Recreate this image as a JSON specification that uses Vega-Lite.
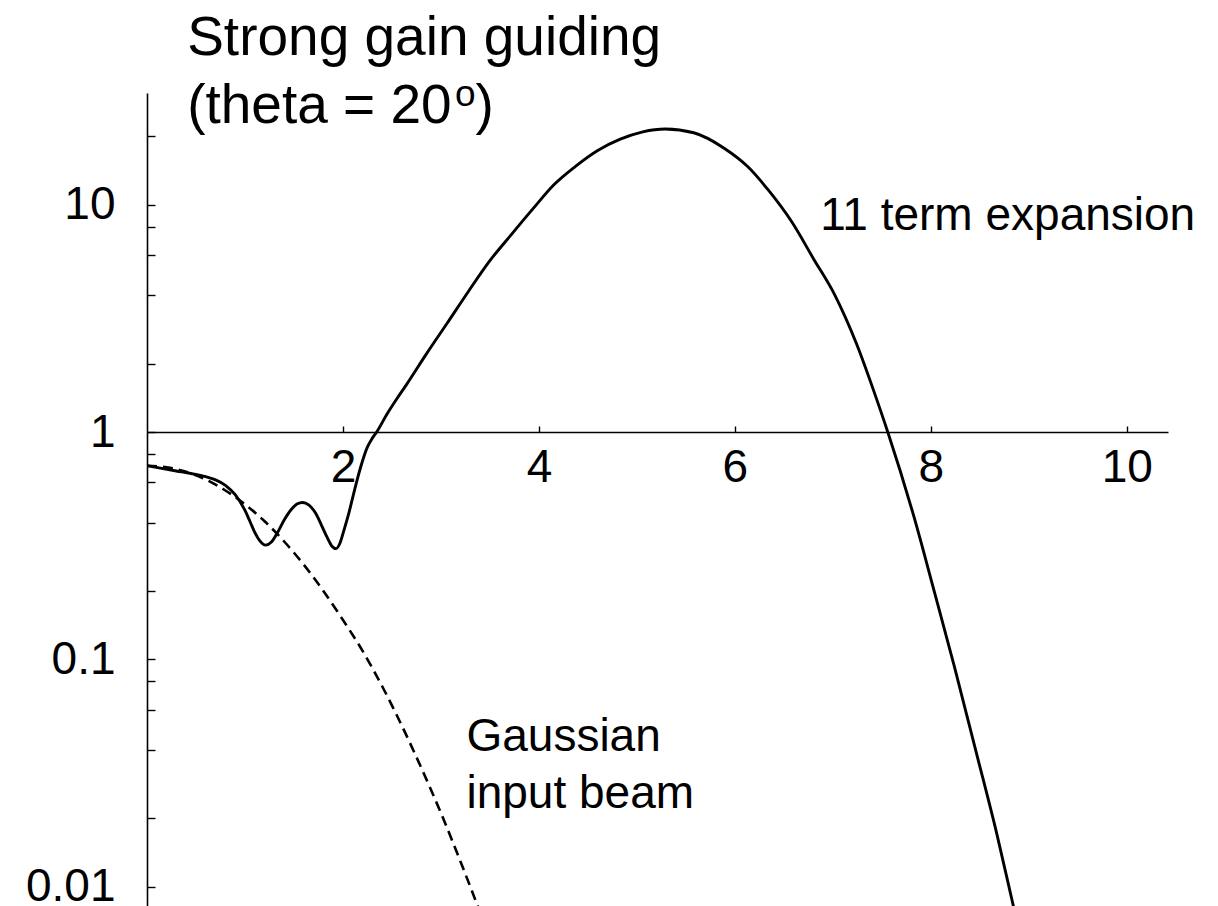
{
  "$schema": "https://vega.github.io/schema/vega-lite/v6.json",
  "width": 1021,
  "height": 813,
  "autosize": {"type": "none"},
  "padding": {"left": 147, "top": 93, "right": 50, "bottom": 0},
  "background": "white",
  "config": {"view": {"stroke": null}, "font": "Liberation Sans"},
  "datasets": {
    "expansion": [
      {"x": 0, "y": 0.711}, {"x": 0.15, "y": 0.692}, {"x": 0.3, "y": 0.674}, {"x": 0.45, "y": 0.657},
      {"x": 0.6, "y": 0.636}, {"x": 0.7, "y": 0.616}, {"x": 0.8, "y": 0.583}, {"x": 0.9, "y": 0.53},
      {"x": 1.0, "y": 0.452}, {"x": 1.05, "y": 0.405}, {"x": 1.1, "y": 0.362}, {"x": 1.15, "y": 0.333},
      {"x": 1.21, "y": 0.318}, {"x": 1.27, "y": 0.328}, {"x": 1.33, "y": 0.36}, {"x": 1.4, "y": 0.41},
      {"x": 1.47, "y": 0.455}, {"x": 1.53, "y": 0.482}, {"x": 1.59, "y": 0.49}, {"x": 1.65, "y": 0.478},
      {"x": 1.72, "y": 0.44}, {"x": 1.78, "y": 0.39}, {"x": 1.84, "y": 0.343}, {"x": 1.89, "y": 0.314},
      {"x": 1.93, "y": 0.307}, {"x": 1.97, "y": 0.325}, {"x": 2.01, "y": 0.37}, {"x": 2.06, "y": 0.44},
      {"x": 2.12, "y": 0.56}, {"x": 2.18, "y": 0.7}, {"x": 2.25, "y": 0.86}, {"x": 2.3, "y": 0.94},
      {"x": 2.344, "y": 1.0}, {"x": 2.45, "y": 1.2}, {"x": 2.55, "y": 1.4}, {"x": 2.65, "y": 1.62},
      {"x": 2.85, "y": 2.2}, {"x": 3.07, "y": 3.04}, {"x": 3.28, "y": 4.15}, {"x": 3.49, "y": 5.6},
      {"x": 3.72, "y": 7.4}, {"x": 3.94, "y": 9.6}, {"x": 4.15, "y": 12.2}, {"x": 4.37, "y": 14.7},
      {"x": 4.6, "y": 17.3}, {"x": 4.83, "y": 19.4}, {"x": 5.06, "y": 20.9}, {"x": 5.29, "y": 21.5},
      {"x": 5.58, "y": 20.7}, {"x": 5.89, "y": 17.7}, {"x": 6.13, "y": 14.7}, {"x": 6.34, "y": 11.6},
      {"x": 6.58, "y": 8.4}, {"x": 6.8, "y": 5.8}, {"x": 7.02, "y": 4.0}, {"x": 7.24, "y": 2.45},
      {"x": 7.44, "y": 1.42}, {"x": 7.56, "y": 1.0}, {"x": 7.83, "y": 0.42}, {"x": 8.04, "y": 0.195},
      {"x": 8.24, "y": 0.093}, {"x": 8.45, "y": 0.041}, {"x": 8.67, "y": 0.0173}, {"x": 8.84, "y": 0.0083},
      {"x": 8.95, "y": 0.0052}
    ],
    "gaussian": [
      {"x": 0, "y": 0.711}, {"x": 0.2, "y": 0.7}, {"x": 0.4, "y": 0.668}, {"x": 0.6, "y": 0.618},
      {"x": 0.8, "y": 0.553}, {"x": 1.0, "y": 0.481}, {"x": 1.2, "y": 0.405}, {"x": 1.4, "y": 0.33},
      {"x": 1.6, "y": 0.261}, {"x": 1.8, "y": 0.2}, {"x": 2.0, "y": 0.149}, {"x": 2.2, "y": 0.109},
      {"x": 2.4, "y": 0.0762}, {"x": 2.6, "y": 0.0512}, {"x": 2.8, "y": 0.0333}, {"x": 3.0, "y": 0.0211},
      {"x": 3.2, "y": 0.0129}, {"x": 3.4, "y": 0.0077}, {"x": 3.6, "y": 0.0045}
    ],
    "notes": [
      {"x": 6.87, "y": 7.73, "text": "11 term expansion"},
      {"x": 3.26, "y": 0.0397, "text": "Gaussian\ninput beam"}
    ],
    "heading": [
      {"x": 0.41, "y": 45.5, "text": "Strong gain guiding"},
      {"x": 0.41, "y": 22.85, "text": "(theta = 20"},
      {"x": 3.353, "y": 22.85, "text": ")"}
    ],
    "degree": [
      {"x": 3.143, "y": 27.2, "text": "o"}
    ]
  },
  "encoding": {
    "x": {
      "field": "x",
      "type": "quantitative",
      "scale": {"domain": [0, 10.42], "nice": false, "zero": false},
      "axis": {
        "orient": "bottom",
        "offset": {"expr": "scale('y', 1) - height"},
        "values": [2, 4, 6, 8, 10],
        "format": "d",
        "title": null,
        "grid": false,
        "tickSize": -6,
        "tickWidth": 1.4,
        "tickColor": "black",
        "domainColor": "black",
        "domainWidth": 1.5,
        "labelFont": "Liberation Sans",
        "labelFontSize": 46,
        "labelColor": "black",
        "labelPadding": 19,
        "labelFlush": false,
        "labelOverlap": false
      }
    },
    "y": {
      "field": "y",
      "type": "quantitative",
      "scale": {"type": "log", "domain": [0.008234, 30.96], "nice": false},
      "axis": {
        "values": [0.01, 0.02, 0.04, 0.06, 0.08, 0.1, 0.2, 0.4, 0.6, 0.8, 1, 2, 4, 6, 8, 10, 20],
        "format": "~g",
        "labelExpr": "datum.value == 0.01 || datum.value == 0.1 || datum.value == 1 || datum.value == 10 ? datum.label : ''",
        "title": null,
        "grid": false,
        "tickSize": -8,
        "tickWidth": 1.4,
        "tickColor": "black",
        "domainColor": "black",
        "domainWidth": 1.6,
        "labelFont": "Liberation Sans",
        "labelFontSize": 46,
        "labelColor": "black",
        "labelPadding": 40,
        "labelFlush": false,
        "labelOverlap": false
      }
    }
  },
  "layer": [
    {
      "data": {"name": "gaussian"},
      "mark": {"type": "line", "clip": true, "color": "black", "strokeWidth": 2.6, "strokeDash": [10, 6], "interpolate": "monotone"}
    },
    {
      "data": {"name": "expansion"},
      "mark": {"type": "line", "clip": true, "color": "black", "strokeWidth": 2.9, "interpolate": "monotone"}
    },
    {
      "data": {"name": "notes"},
      "mark": {"type": "text", "clip": false, "align": "left", "baseline": "alphabetic", "font": "Liberation Sans", "fontSize": 46, "lineBreak": "\n", "lineHeight": 57.5, "color": "black"},
      "encoding": {"text": {"field": "text"}}
    },
    {
      "data": {"name": "heading"},
      "mark": {"type": "text", "clip": false, "align": "left", "baseline": "alphabetic", "font": "Liberation Sans", "fontSize": 55, "color": "black"},
      "encoding": {"text": {"field": "text"}}
    },
    {
      "data": {"name": "degree"},
      "mark": {"type": "text", "clip": false, "align": "left", "baseline": "alphabetic", "font": "Liberation Sans", "fontSize": 37, "color": "black"},
      "encoding": {"text": {"field": "text"}}
    }
  ]
}
